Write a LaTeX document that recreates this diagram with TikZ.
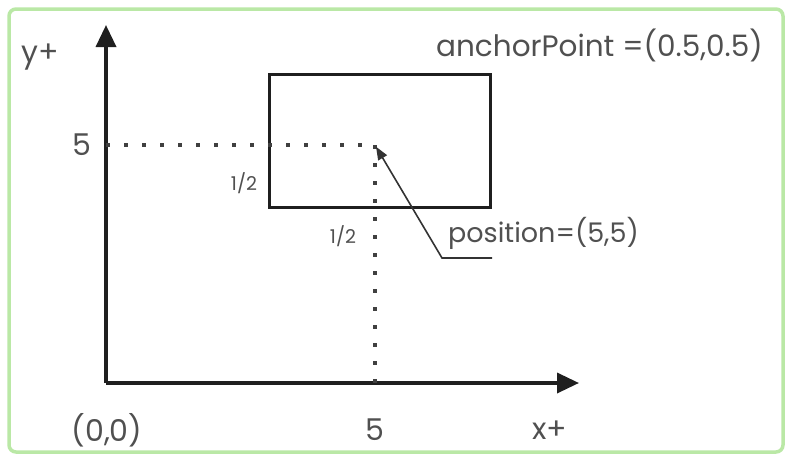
\documentclass[tikz,border=0pt]{standalone}
\usepackage{fontspec}
\setmainfont{Poppins}
\usetikzlibrary{positioning, arrows.meta}
\definecolor{framegreen}{RGB}{186,232,166}
\definecolor{inkgray}{RGB}{80,80,80}
\tikzset{
	axis/.style={
		draw=black!88, % axis line
		line width=3.5pt,
		-{Triangle[length=22pt, width=20pt]}
	},
	sprite/.style={
		draw=black!88, % the box that is placed
		rectangle,
		line width=3.2pt,
		minimum width=221pt,
		minimum height=133pt
	},
	guide/.style={
		draw=black!75,
		line width=3.5pt,
		dash pattern=on 3.5pt off 14.5pt
	},
	leader/.style={
		draw=black!80,
		line width=1.6pt,
		-{Triangle[length=13pt, width=10pt]}
	},
	lbl/.style={text=inkgray, inner sep=0pt, font=\fontsize{30}{34}\selectfont},
	note/.style={text=inkgray, inner sep=0pt, font=\fontsize{#1}{32}\selectfont},
	half/.style={text=inkgray, inner sep=0pt, font=\fontsize{19}{22}\selectfont}
}
\begin{document}
\begin{tikzpicture}[x=1pt, y=-1pt]
	\useasboundingbox (0,0) rectangle (793,463);
	\draw[framegreen, line width=3.5pt, rounded corners=7pt] (9,9) rectangle (783,452);
	
	\coordinate (O) at (106,383);
	\coordinate (ytip) at (106,25);
	\coordinate (xtip) at (579,383);
	\coordinate (pt) at (375,145);
	
	\draw[axis] (O) -- (ytip);
	\draw[axis] (O) -- (xtip);
	
	\node[sprite] (box) at (380,141) {};
	
	\draw[guide] (O |- pt) -- (pt);
	\draw[guide] (pt) -- (pt |- O);
	
	\node[lbl] (ylab) at (40,57) {y+};
	\node[lbl, left=14pt of {O |- pt}] (ylev) {5};
	\node[lbl] (orig) at (107,430) {(0,0)};
	\node[lbl] (xlev) at (375,430) {5};
	\node[lbl] (xlab) at (550,430) {x+};
	
	\node[half] (hv) at (244,183) {1/2};
	\node[half] (hh) at (343,236) {1/2};
	
	\node[note=29.5, anchor=east] (anc) at (763,45) {anchorPoint =(0.5,0.5)};
	\node[note=27, anchor=west] (pos) at (448,233) {position=(5,5)};
	
	\coordinate (lead) at (492,258);
	\coordinate (knee) at (442,258);
	\draw[leader, shorten >=2pt] (lead) -- (knee) -- (pt);
	
\end{tikzpicture}
\end{document}
